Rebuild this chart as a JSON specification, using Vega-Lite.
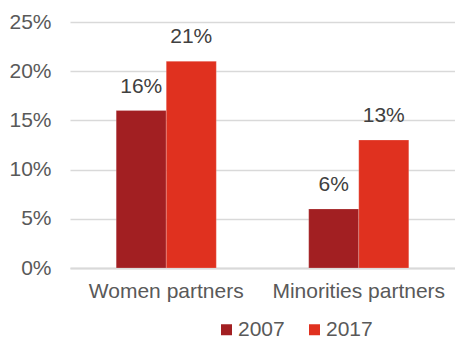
{
  "$schema": "https://vega.github.io/schema/vega-lite/v6.json",
  "width": 385,
  "height": 246,
  "autosize": {"type": "none"},
  "padding": {"left": 70, "top": 22, "right": 0, "bottom": 71},
  "background": "white",
  "config": {
    "view": {"stroke": null},
    "font": "Liberation Sans",
    "axis": {"labelFont": "Liberation Sans", "labelColor": "#595959", "labelFontSize": 21}
  },
  "data": {
    "values": [
      {"group": "Women partners", "year": "2007", "value": 0.16, "label": "16%"},
      {"group": "Women partners", "year": "2017", "value": 0.21, "label": "21%"},
      {"group": "Minorities partners", "year": "2007", "value": 0.06, "label": "6%"},
      {"group": "Minorities partners", "year": "2017", "value": 0.13, "label": "13%"}
    ]
  },
  "encoding": {
    "x": {
      "field": "group", "type": "nominal", "sort": ["Women partners", "Minorities partners"],
      "scale": {"paddingInner": 0.48, "paddingOuter": 0.24},
      "axis": {"title": null, "labelAngle": 0, "ticks": false, "domainColor": "#d9d9d9", "domainWidth": 2, "labelPadding": 12}
    },
    "xOffset": {"field": "year", "type": "nominal"},
    "y": {
      "field": "value", "type": "quantitative",
      "scale": {"domain": [0, 0.25]},
      "axis": {"title": null, "format": ".0%", "values": [0, 0.05, 0.1, 0.15, 0.2, 0.25], "labelOverlap": false, "ticks": false, "domain": false, "gridColor": "#d9d9d9", "gridWidth": 1.5, "labelPadding": 19}
    }
  },
  "layer": [
    {
      "mark": {"type": "bar", "stroke": "white", "strokeWidth": 0.5, "strokeOpacity": 0.4},
      "encoding": {
        "color": {
          "field": "year", "type": "nominal",
          "scale": {"domain": ["2007", "2017"], "range": ["#A21F22", "#E0311F"]},
          "legend": {
            "title": null, "orient": "none", "direction": "horizontal",
            "legendX": 146, "legendY": 297,
            "symbolType": "square", "symbolSize": 121, "symbolStrokeWidth": 0,
            "labelFontSize": 21, "labelColor": "#595959", "labelFont": "Liberation Sans",
            "columnPadding": 19, "labelOffset": 1
          }
        }
      }
    },
    {
      "mark": {"type": "text", "dy": -18, "baseline": "alphabetic", "fontSize": 21, "color": "#404040", "font": "Liberation Sans"},
      "encoding": {"text": {"field": "label"}}
    }
  ]
}
